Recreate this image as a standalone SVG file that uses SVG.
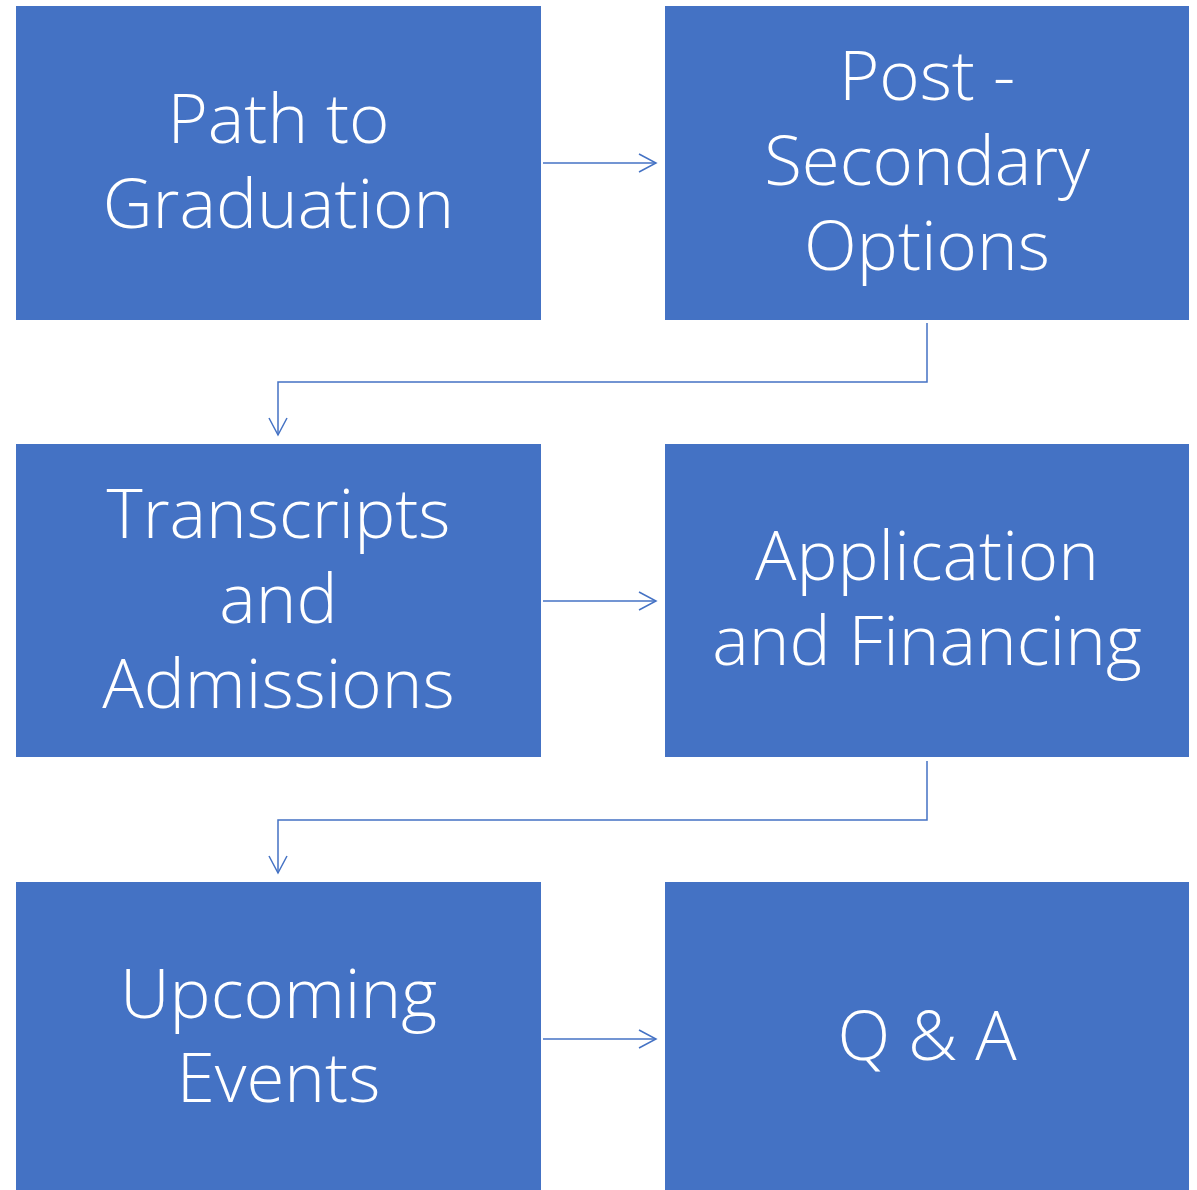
<svg xmlns="http://www.w3.org/2000/svg" width="1197" height="1190" viewBox="0 0 1197 1190">
<defs>
<style>
.box{fill:#4472C4;}
.t{fill:#FFFFFF;font-family:"Open Sans","Noto Sans","Liberation Sans",sans-serif;font-weight:300;font-size:69px;text-anchor:middle;}
.c{fill:none;stroke:#4472C4;stroke-width:1.5;}
</style>
<marker id="ah" viewBox="0 0 20 20" refX="18" refY="10" markerWidth="20" markerHeight="20" markerUnits="userSpaceOnUse" orient="auto">
<path d="M1,1 L18,10 L1,19" fill="none" stroke="#4472C4" stroke-width="1.5"/>
</marker>
</defs>
<rect width="1197" height="1190" fill="#FFFFFF"/>
<g id="connectors">
<path class="c" d="M543,163 L656,163" marker-end="url(#ah)"/>
<path class="c" d="M927,323 L927,382 L278,382 L278,435" marker-end="url(#ah)"/>
<path class="c" d="M543,601 L656,601" marker-end="url(#ah)"/>
<path class="c" d="M927,761 L927,820 L278,820 L278,873" marker-end="url(#ah)"/>
<path class="c" d="M543,1039 L656,1039" marker-end="url(#ah)"/>
</g>
<g id="n1"><rect class="box" x="16" y="6" width="525" height="314"/>
<text class="t" x="278.5" y="143">Path to</text><text class="t" x="278.5" y="228">Graduation</text></g>
<g id="n2"><rect class="box" x="665" y="6" width="524" height="314"/>
<text class="t" x="927" y="100">Post -</text><text class="t" x="927" y="185">Secondary</text><text class="t" x="927" y="270">Options</text></g>
<g id="n3"><rect class="box" x="16" y="444" width="525" height="313"/>
<text class="t" x="278.5" y="538">Transcripts</text><text class="t" x="278.5" y="623">and</text><text class="t" x="278.5" y="708">Admissions</text></g>
<g id="n4"><rect class="box" x="665" y="444" width="524" height="313"/>
<text class="t" x="927" y="580">Application</text><text class="t" x="927" y="665">and Financing</text></g>
<g id="n5"><rect class="box" x="16" y="882" width="525" height="308"/>
<text class="t" x="278.5" y="1018">Upcoming</text><text class="t" x="278.5" y="1102">Events</text></g>
<g id="n6"><rect class="box" x="665" y="882" width="524" height="308"/>
<text class="t" x="927" y="1060">Q &amp; A</text></g>
</svg>
